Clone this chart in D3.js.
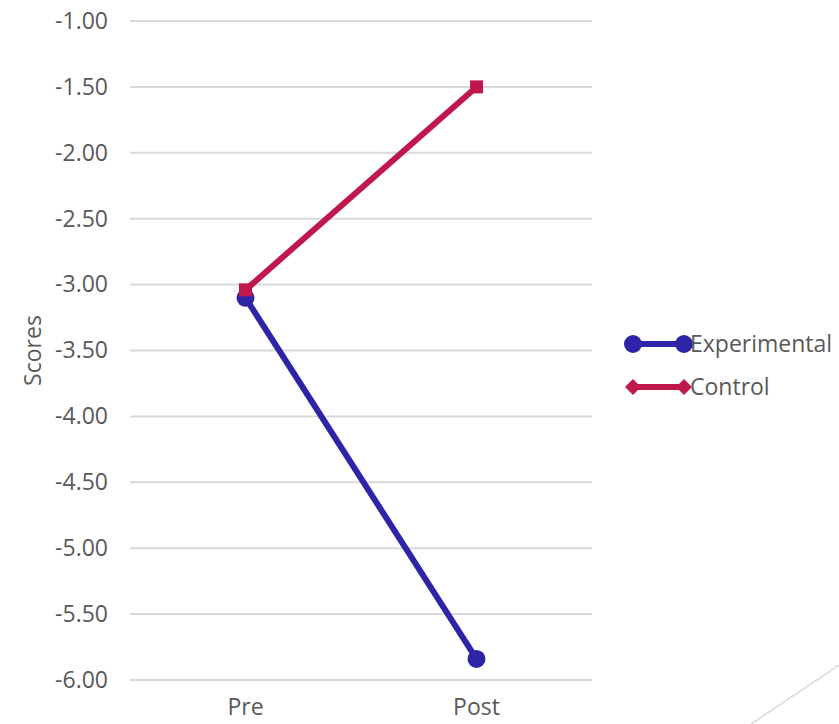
<!DOCTYPE html>
<html>
<head>
<meta charset="utf-8">
<script src="https://cdn.jsdelivr.net/npm/d3@7"></script>
<style>
  html, body { margin: 0; padding: 0; background: #ffffff; }
  svg { display: block; }
  text { font-family: "Open Sans", sans-serif; fill: #595959; }
</style>
</head>
<body>
<svg id="chart" width="839" height="724"></svg>
<script>
// Time points and group means
const categories = ["Pre", "Post"];
const experimental = [-3.10, -5.84];
const control = [-3.04, -1.50];
const seriesNames = ["Experimental", "Control"];
const yTicks = [-1.0, -1.5, -2.0, -2.5, -3.0, -3.5, -4.0, -4.5, -5.0, -5.5, -6.0];

const svg = d3.select("#chart");
const margin = { left: 130, right: 247, top: 21, bottom: 44 };
const W = 839, H = 724;

const x = d3.scaleBand()
  .domain(categories)
  .range([margin.left, W - margin.right]);

const y = d3.scaleLinear()
  .domain([-6, -1])
  .range([H - margin.bottom, margin.top]);

const blue = "#2E24A8";
const red = "#C0184C";

// Plain hyphen-minus for negative tick labels
const fmt = d3.formatLocale({ decimal: ".", thousands: ",", grouping: [3], currency: ["", ""], minus: "-" }).format(".2f");

// Horizontal gridlines
svg.append("g")
  .selectAll("line")
  .data(yTicks)
  .join("line")
  .attr("x1", margin.left)
  .attr("x2", W - margin.right)
  .attr("y1", d => y(d))
  .attr("y2", d => y(d))
  .attr("stroke", "#D9D9D9")
  .attr("stroke-width", 2);

// Y axis labels
const yAxis = d3.axisLeft(y)
  .tickValues(yTicks)
  .tickFormat(fmt)
  .tickSize(0)
  .tickPadding(22);
const gy = svg.append("g")
  .attr("transform", `translate(${margin.left},0)`)
  .call(yAxis);
gy.select(".domain").remove();
gy.selectAll("text")
  .attr("font-size", 23)
  .attr("fill", "#595959")
  .attr("font-family", "'Open Sans', sans-serif");

// X axis labels
const xAxis = d3.axisBottom(x).tickSize(0).tickPadding(19);
const gx = svg.append("g")
  .attr("transform", `translate(0,${H - margin.bottom})`)
  .call(xAxis);
gx.select(".domain").remove();
gx.selectAll("text")
  .attr("font-size", 23)
  .attr("fill", "#595959")
  .attr("font-family", "'Open Sans', sans-serif");

// Y axis title
svg.append("text")
  .attr("transform", `translate(41,${(margin.top + H - margin.bottom) / 2}) rotate(-90)`)
  .attr("text-anchor", "middle")
  .attr("font-size", 23)
  .text("Scores");

const cx = d => x(d) + x.bandwidth() / 2;
const line = d3.line()
  .x(d => cx(d.cat))
  .y(d => y(d.v));

const expPts = categories.map((c, i) => ({ cat: c, v: experimental[i] }));
const ctlPts = categories.map((c, i) => ({ cat: c, v: control[i] }));

// Experimental series
svg.append("path")
  .datum(expPts)
  .attr("d", line)
  .attr("fill", "none")
  .attr("stroke", blue)
  .attr("stroke-width", 6);
svg.append("g")
  .selectAll("circle")
  .data(expPts)
  .join("circle")
  .attr("cx", d => cx(d.cat))
  .attr("cy", d => y(d.v))
  .attr("r", 9)
  .attr("fill", blue);

// Control series
svg.append("path")
  .datum(ctlPts)
  .attr("d", line)
  .attr("fill", "none")
  .attr("stroke", red)
  .attr("stroke-width", 6);
svg.append("g")
  .selectAll("rect")
  .data(ctlPts)
  .join("rect")
  .attr("x", d => cx(d.cat) - 6.5)
  .attr("y", d => y(d.v) - 6.5)
  .attr("width", 13)
  .attr("height", 13)
  .attr("fill", red);

// Legend
const legend = svg.append("g").attr("transform", "translate(633,344)");
const lx1 = 0, lx2 = 51, rowGap = 43;

const l1 = legend.append("g");
l1.append("line").attr("x1", lx1).attr("x2", lx2).attr("y1", 0).attr("y2", 0)
  .attr("stroke", blue).attr("stroke-width", 6);
l1.selectAll("circle").data([lx1, lx2]).join("circle")
  .attr("cx", d => d).attr("cy", 0).attr("r", 9).attr("fill", blue);
l1.append("text").attr("x", 57).attr("y", 0).attr("dy", "0.36em")
  .attr("font-size", 23).text(seriesNames[0]);

const l2 = legend.append("g").attr("transform", `translate(0,${rowGap})`);
l2.append("line").attr("x1", lx1).attr("x2", lx2).attr("y1", 0).attr("y2", 0)
  .attr("stroke", red).attr("stroke-width", 6);
l2.selectAll("path").data([lx1, lx2]).join("path")
  .attr("d", d => `M${d - 8},0 L${d},-8 L${d + 8},0 L${d},8 Z`)
  .attr("fill", red);
l2.append("text").attr("x", 57).attr("y", 0).attr("dy", "0.36em")
  .attr("font-size", 23).text(seriesNames[1]);

// Thin decorative diagonal in the lower-right corner
svg.append("line")
  .attr("x1", 751).attr("y1", 724)
  .attr("x2", 839).attr("y2", 665)
  .attr("stroke", "#D9D9D9")
  .attr("stroke-width", 1.5);
</script>
</body>
</html>
